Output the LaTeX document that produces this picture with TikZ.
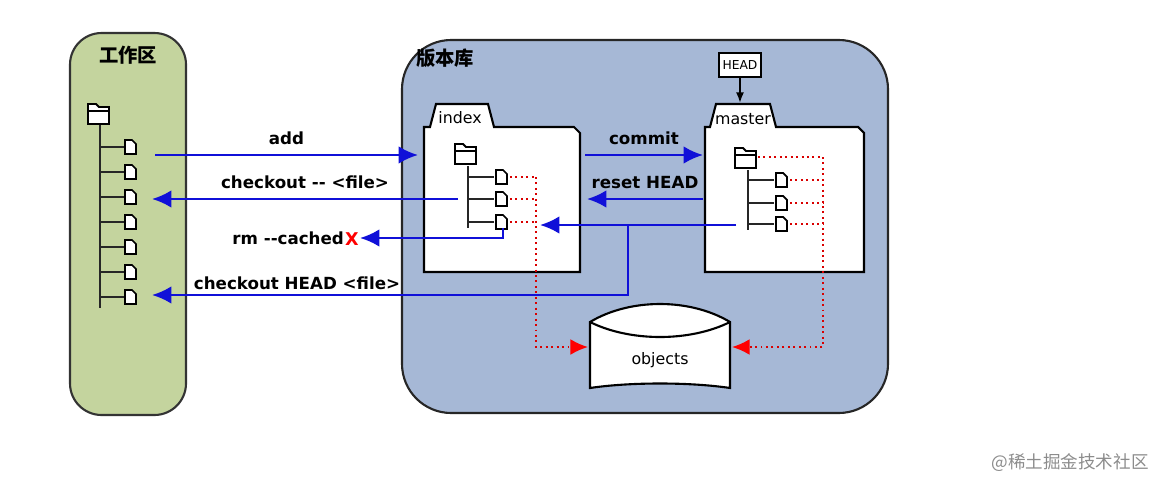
\documentclass[tikz,border=0pt]{standalone}
\usepackage{fontspec}
\setmainfont{DejaVu Sans}
\newfontfamily\cjk{Noto Sans CJK SC}
\usetikzlibrary{arrows.meta}
\definecolor{wgreen}{HTML}{C4D49E}
\definecolor{rblue}{HTML}{A6B8D6}
\definecolor{ablue}{HTML}{1010D8}
\tikzset{
 blue arrow/.style={draw=ablue,line width=1.4pt,-{Latex[length=11pt,width=10pt]}},
 red dot/.style={draw=red!85!black,dotted,line width=1.1pt},
 red arrow/.style={red dot,-{Latex[length=10pt,width=9pt,fill=red,color=red]}},
 lbl/.style={font=\bfseries\fontsize{9.5}{12}\selectfont,inner sep=1pt},
 tree/.style={line width=1.3pt,draw=black!85},
 pics/file/.style={code={\draw[fill=white,line width=1pt] (-5,-7) -- (2,-7) -- (6,-3) -- (6,7) -- (-5,7) -- cycle;}},
 pics/folder/.style={code={\draw[fill=white,line width=1.1pt] (-11,-2) -- (-11,-9) -- (-3,-9) -- (0,-6) -- (10,-6) -- (10,11) -- (-11,11) -- cycle;
   \draw[line width=1.1pt] (-11,-2) -- (10,-2);}},
}
\begin{document}
\begin{tikzpicture}[x=0.02cm,y=-0.02cm]
\useasboundingbox (0,0) rectangle (1169,490);
% workspace
\draw[fill=wgreen,draw=black!80,line width=1.2pt,rounded corners=18pt] (70,33) rectangle (186,415);
\node[font=\cjk\bfseries\fontsize{11}{13}\selectfont] (wt) at (128,55) {工作区};
\pic at (99,113) {folder};
\draw[tree] (100,125) -- (100,308);
\foreach \y/\n in {147/w1,172/w2,197/w3,222/w4,247/w5,272/w6,297/w7}{
  \draw[tree] (100,\y) -- (125,\y);
  \pic at (130,\y) {file};
  \coordinate (\n) at (152,\y);
}
% repo
\draw[fill=rblue,draw=black!85,line width=1.2pt,rounded corners=28pt] (402,40) rectangle (888,413);
\node[font=\cjk\bfseries\fontsize{11}{13}\selectfont] (rt) at (445,58) {版本库};
% index folder
\draw[fill=white,line width=1.2pt] (424,272) -- (424,127) -- (430,127) -- (436,104) -- (488,104) -- (494,127) -- (574,127) -- (580,133) -- (580,272) -- cycle;
\node[font=\fontsize{9}{11}\selectfont] (idx) at (460,118) {index};
\pic at (466,153) {folder};
\draw[tree] (468,166) -- (468,228);
\foreach \y/\n in {177/i1,199/i2,222/i3}{
  \draw[tree] (468,\y) -- (494,\y);
  \pic at (501,\y) {file};
  \draw[red dot] (510,\y) -- (536,\y);
}
% master folder
\draw[fill=white,line width=1.2pt] (705,272) -- (705,127) -- (710,127) -- (716,104) -- (770,104) -- (776,127) -- (858,127) -- (864,133) -- (864,272) -- cycle;
\node[font=\fontsize{9}{11}\selectfont] (mst) at (743,119) {master};
\pic at (746,157) {folder};
\draw[tree] (748,170) -- (748,230);
\foreach \y/\n in {180/m1,203/m2,224/m3}{
  \draw[tree] (748,\y) -- (774,\y);
  \pic at (781,\y) {file};
  \draw[red dot] (790,\y) -- (823,\y);
}
\draw[red dot] (758,157) -- (823,157);
% HEAD
\node[draw,fill=white,line width=1pt,font=\fontsize{7}{8}\selectfont,inner sep=2pt,minimum height=14pt] (head) at (740,65) {HEAD};
\draw[line width=1pt,-{Latex[length=6pt]}] (head.south) -- (740,103);
% objects cylinder
\draw[fill=white,line width=1.2pt] (590,322) .. controls (630,298) and (690,298) .. (730,322) -- (730,388) .. controls (690,382) and (630,382) .. (590,388) -- cycle;
\draw[line width=1.2pt] (590,322) .. controls (630,342) and (690,342) .. (730,322);
\node[font=\fontsize{9}{11}\selectfont] (obj) at (660,360) {objects};
\coordinate (objL) at (588,347);
\coordinate (objR) at (732,347);
% red links
\draw[red arrow] (536,177) -- (536,347) -- (objL);
\draw[red arrow] (823,157) -- (823,347) -- (objR);
% blue arrows
\coordinate (addS) at (155,155); \coordinate (addE) at (418,155);
\draw[blue arrow] (addS) -- (addE) node[lbl,pos=0.5,above=4pt] {add};
\coordinate (coS) at (458,199);
\draw[blue arrow] (coS) -- (w3 |- coS) node[lbl,pos=0.5,above=4pt] {checkout -{}- <file>};
\coordinate (rmS) at (503,228); \coordinate (rmE) at (360,238);
\draw[blue arrow] (rmS) -- (503,238) -- (rmE);
\node[lbl,anchor=east] (rm) at (346,238) {rm -{}-cached};
\node[text=red,font=\bfseries\fontsize{10}{12}\selectfont,inner sep=0] (x) at (352,239) {X};
\coordinate (cmS) at (585,155); \coordinate (cmE) at (703,155);
\draw[blue arrow] (cmS) -- (cmE) node[lbl,midway,above=4pt] {commit};
\coordinate (rsS) at (703,199); \coordinate (rsE) at (587,199);
\draw[blue arrow] (rsS) -- (rsE) node[lbl,midway,above=4pt] {reset HEAD};
\coordinate (chS) at (736,225); \coordinate (chM) at (628,225); \coordinate (chE) at (540,225);
\draw[blue arrow] (chS) -- (chE);
\draw[blue arrow] (chM) -- (628,295) -- (152,295);
\node[lbl] (chl) at (297,283) {checkout HEAD <file>};
% watermark
\node[text=black!45,font=\cjk\fontsize{10}{12}\selectfont] (wm) at (1070,463) {@稀土掘金技术社区};
\end{tikzpicture}
\end{document}
